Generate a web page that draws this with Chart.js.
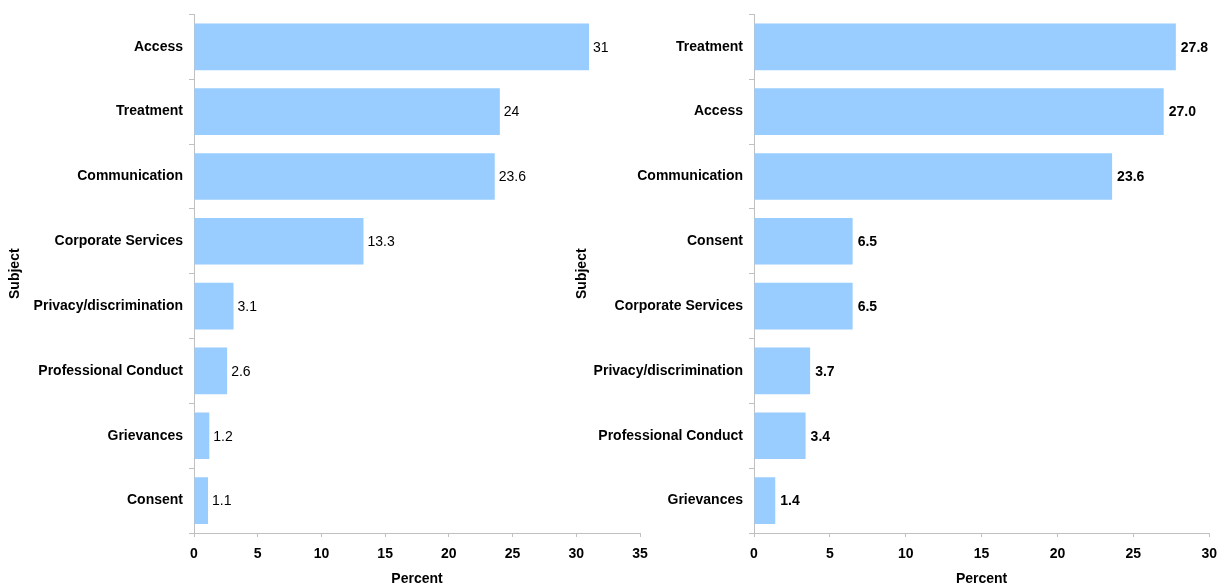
<!DOCTYPE html>
<html>
<head>
<meta charset="utf-8">
<script src="https://cdn.jsdelivr.net/npm/chart.js@4"></script>
<style>
  html, body { margin: 0; padding: 0; background: #fff; }
  body { width: 1226px; height: 586px; position: relative; overflow: hidden; }
  canvas { position: absolute; top: 0; }
  #left { left: 0; }
  #right { left: 560px; }
</style>
</head>
<body>
<canvas id="left" width="660" height="586"></canvas>
<canvas id="right" width="666" height="586"></canvas>
<script>
// Complaints by subject, percent of total
const leftCategories = ['Access', 'Treatment', 'Communication', 'Corporate Services',
  'Privacy/discrimination', 'Professional Conduct', 'Grievances', 'Consent'];
const leftValues = [31, 24, 23.6, 13.3, 3.1, 2.6, 1.2, 1.1];
const leftTicks = [0, 5, 10, 15, 20, 25, 30, 35];

const rightCategories = ['Treatment', 'Access', 'Communication', 'Consent',
  'Corporate Services', 'Privacy/discrimination', 'Professional Conduct', 'Grievances'];
const rightValues = [27.8, 27.0, 23.6, 6.5, 6.5, 3.7, 3.4, 1.4];
const rightTicks = [0, 5, 10, 15, 20, 25, 30];

const FONT = "'Liberation Sans', Arial, sans-serif";
const BAR = '#99CCFF';
const AXIS = '#c0c0c0';

// Writes each bar's value just past its end
const valueLabels = {
  id: 'valueLabels',
  afterDatasetsDraw(chart, args, opts) {
    const ctx = chart.ctx;
    const meta = chart.getDatasetMeta(0);
    const data = chart.data.datasets[0].data;
    ctx.save();
    ctx.font = (opts.bold ? 'bold ' : '') + '14px ' + FONT;
    ctx.fillStyle = '#000';
    ctx.textAlign = 'left';
    ctx.textBaseline = 'middle';
    meta.data.forEach((bar, i) => {
      ctx.fillText(opts.format(data[i]), bar.x + opts.gap, bar.y + 1);
    });
    ctx.restore();
  }
};

function makeChart(id, categories, values, ticks, o) {
  return new Chart(document.getElementById(id), {
    type: 'bar',
    data: {
      labels: categories,
      datasets: [{
        data: values,
        backgroundColor: BAR,
        borderWidth: 0,
        barPercentage: 0.72,
        categoryPercentage: 1
      }]
    },
    options: {
      indexAxis: 'y',
      responsive: false,
      animation: false,
      devicePixelRatio: 1,
      layout: { padding: { top: 13, right: o.padRight, bottom: 0, left: 0 } },
      plugins: {
        legend: { display: false },
        tooltip: { enabled: false },
        valueLabels: { bold: o.bold, format: o.format, gap: o.gap }
      },
      scales: {
        x: {
          min: ticks[0],
          max: ticks[ticks.length - 1],
          afterBuildTicks: s => { s.ticks = ticks.map(v => ({ value: v })); },
          afterFit: s => { s.height = 53; },
          grid: { drawOnChartArea: false, drawTicks: true, tickLength: 4, color: AXIS },
          border: { display: true, color: AXIS, width: 1 },
          ticks: { color: '#000', font: { family: FONT, size: 14, weight: 'bold' }, padding: 9, maxRotation: 0 },
          title: { display: true, text: 'Percent', color: '#000',
                   font: { family: FONT, size: 14, weight: 'bold' }, padding: { top: 0, bottom: -2 } }
        },
        y: {
          afterFit: s => { s.width = 194; },
          grid: { drawOnChartArea: false, drawTicks: true, tickLength: 5, color: AXIS },
          border: { display: true, color: AXIS, width: 1 },
          ticks: { color: '#000', font: { family: FONT, size: 14, weight: 'bold' }, padding: 6 },
          title: { display: true, text: 'Subject', color: '#000',
                   font: { family: FONT, size: 14, weight: 'bold' }, padding: { top: o.titlePad, bottom: 0 } }
        }
      }
    },
    plugins: [valueLabels]
  });
}

makeChart('left', leftCategories, leftValues, leftTicks,
  { padRight: 20, bold: false, gap: 4, titlePad: 7, format: v => String(v) });
makeChart('right', rightCategories, rightValues, rightTicks,
  { padRight: 15, bold: true, gap: 5, titlePad: 14, format: v => v.toFixed(1) });
</script>
</body>
</html>
